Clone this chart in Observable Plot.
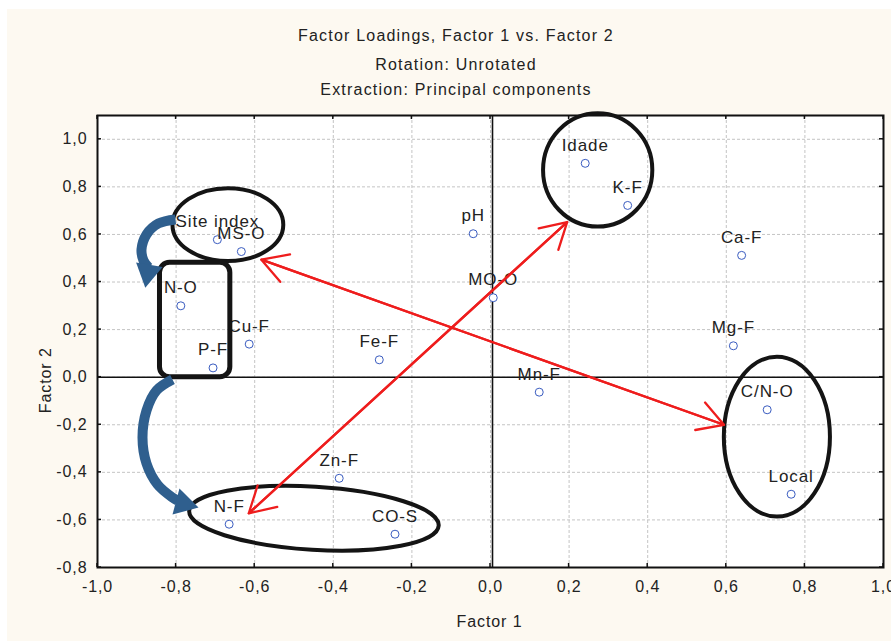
<!DOCTYPE html>
<html><head><meta charset="utf-8">
<script src="https://cdn.jsdelivr.net/npm/d3@7"></script>
<script src="https://cdn.jsdelivr.net/npm/@observablehq/plot@0.6"></script>
<style>
html,body{margin:0;padding:0;background:#fff;}
#page{position:relative;width:891px;height:641px;overflow:hidden;font-family:"Liberation Sans",Arial,sans-serif;color:#222;}
#bg{position:absolute;left:7px;top:9px;right:0;bottom:0;background:#fdf9f1;}
#titles{position:relative;height:100px;}
.t{position:absolute;left:0;width:912px;text-align:center;font-size:16px;line-height:20px;letter-spacing:1.2px;white-space:nowrap;color:#222;}
#chart{position:relative;height:541px;}
</style></head><body>
<div id="page"><div id="bg"></div>
<div id="titles">
<div class="t" style="top:25.7px">Factor Loadings, Factor 1 vs. Factor 2</div>
<div class="t" style="top:54.7px">Rotation: Unrotated</div>
<div class="t" style="top:79.7px">Extraction: Principal components</div>
</div>
<div id="chart"></div>
</div>
<script>
// ---- data: factor loadings ----
const names   = ["Idade","K-F","pH","Ca-F","MO-O","Mg-F","Site index","MS-O","N-O","Cu-F","P-F","Fe-F","Mn-F","C/N-O","Zn-F","Local","N-F","CO-S"];
const factor1 = [0.241, 0.349, -0.044, 0.639, 0.007, 0.618, -0.695, -0.634, -0.788, -0.614, -0.706, -0.283, 0.124, 0.704, -0.385, 0.765, -0.665, -0.243];
const factor2 = [0.899, 0.722, 0.603, 0.512, 0.334, 0.132, 0.578, 0.528, 0.300, 0.139, 0.039, 0.073, -0.063, -0.137, -0.425, -0.492, -0.618, -0.660];

// ---- axis ticks ----
const xTicks = [-1.0, -0.8, -0.6, -0.4, -0.2, 0.0, 0.2, 0.4, 0.6, 0.8, 1.0];
const yTicks = [-0.8, -0.6, -0.4, -0.2, 0.0, 0.2, 0.4, 0.6, 0.8, 1.0];
const xLabel = "Factor 1";
const yLabel = "Factor 2";

// ---- annotations (data units) ----
const ellipseCx   = [-0.667, 0.274, 0.730, -0.448];
const ellipseCy   = [0.639, 0.869, -0.252, -0.595];
const ellipseRx   = [0.141, 0.139, 0.135, 0.318];
const ellipseRy   = [0.153, 0.238, 0.336, 0.1325];
const ellipseTilt = [0, 0, 0, 3.4];
const boxX = [-0.841, -0.662];
const boxY = [0.481, 0.0];
const redArrowX1 = [-0.615, -0.583];
const redArrowY1 = [-0.572, 0.494];
const redArrowX2 = [0.195, 0.594];
const redArrowY2 = [0.652, -0.200];
const curveUpperX = [-0.8015, -0.8448, -0.8753, -0.8880, -0.8830, -0.8702];
const curveUpperY = [0.6632, 0.6463, 0.6001, 0.5370, 0.4907, 0.4613];
const curveLowerX = [-0.8092, -0.8499, -0.8753, -0.8855, -0.8753, -0.8473, -0.8092, -0.7964];
const curveLowerY = [-0.0097, -0.0559, -0.1400, -0.2536, -0.3629, -0.4512, -0.5059, -0.5185];
const headX = [-0.8715, -0.7812];
const headY = [0.4403, -0.5311];
const headAngle = [190, 105];

// ---- build tables ----
const points = names.map((n, i) => ({name: n, f1: factor1[i], f2: factor2[i]}));
const ellipses = ellipseCx.map((cx, i) => ({cx, cy: ellipseCy[i], rx: ellipseRx[i], ry: ellipseRy[i], tilt: ellipseTilt[i]}));
const redArrows = [];
redArrowX1.forEach((x1, i) => {
  redArrows.push({x1, y1: redArrowY1[i], x2: redArrowX2[i], y2: redArrowY2[i]});
  redArrows.push({x1: redArrowX2[i], y1: redArrowY2[i], x2: x1, y2: redArrowY1[i]});
});
const curves = [
  ...curveUpperX.map((x, i) => ({k: "u", x, y: curveUpperY[i]})),
  ...curveLowerX.map((x, i) => ({k: "l", x, y: curveLowerY[i]}))
];
const heads = headX.map((x, i) => ({x, y: headY[i], a: headAngle[i]}));
const fmt = v => v.toFixed(1).replace(".", ",");

const NS = "http://www.w3.org/2000/svg";
function el(tag, attrs) {
  const e = document.createElementNS(NS, tag);
  for (const k in attrs) e.setAttribute(k, attrs[k]);
  return e;
}
// inward ticks on all four sides
function innerTicks(index, scales, values, dims) {
  const {x, y} = scales;
  const L = dims.marginLeft, R = dims.width - dims.marginRight;
  const T = dims.marginTop, B = dims.height - dims.marginBottom;
  const g = el("g", {stroke: "#111", "stroke-width": 1.5});
  for (const v of xTicks) {
    const px = x(v);
    g.appendChild(el("line", {x1: px, x2: px, y1: B, y2: B - 4}));
    g.appendChild(el("line", {x1: px, x2: px, y1: T, y2: T + 4}));
  }
  for (const v of yTicks) {
    const py = y(v);
    g.appendChild(el("line", {x1: L, x2: L + 4, y1: py, y2: py}));
    g.appendChild(el("line", {x1: R, x2: R - 4, y1: py, y2: py}));
  }
  return g;
}
// black annotation ellipses and rounded box
function shapes(index, scales) {
  const {x, y} = scales;
  const g = el("g", {fill: "none", stroke: "#141414"});
  for (const e of ellipses) {
    const cx = x(e.cx), cy = y(e.cy);
    const rx = x(e.cx + e.rx) - cx, ry = cy - y(e.cy + e.ry);
    g.appendChild(el("ellipse", {cx, cy, rx, ry, "stroke-width": 4, transform: `rotate(${e.tilt} ${cx} ${cy})`}));
  }
  const bx = x(boxX[0]), by = y(boxY[0]);
  g.appendChild(el("rect", {x: bx, y: by, width: x(boxX[1]) - bx, height: y(boxY[1]) - by, rx: 10, ry: 10, "stroke-width": 5}));
  return g;
}

const blue = "#2f5f8e";
const plot = Plot.plot({
  width: 891,
  height: 541,
  marginTop: 15,
  marginLeft: 97,
  marginRight: 8,
  marginBottom: 74,
  x: {domain: [-1, 1]},
  y: {domain: [-0.8, 1.1]},
  style: {background: "transparent", fontFamily: "'Liberation Sans', Arial, sans-serif", fontSize: "16px", color: "#222", overflow: "visible"},
  marks: [
    Plot.frame({fill: "white", stroke: "none"}),
    Plot.ruleX(xTicks, {stroke: "#c4c4c4", strokeDasharray: "3,2", strokeWidth: 1}),
    Plot.ruleY(yTicks, {stroke: "#c4c4c4", strokeDasharray: "3,2", strokeWidth: 1}),
    Plot.ruleX([0], {stroke: "#111", strokeWidth: 1.6, dx: 2}),
    Plot.ruleY([0], {stroke: "#111", strokeWidth: 1.6}),
    Plot.axisX({ticks: xTicks, tickFormat: fmt, tickSize: 0, tickPadding: 13, label: null, fontSize: 16}),
    Plot.axisY({ticks: yTicks, tickFormat: fmt, tickSize: 0, tickPadding: 10, label: null, fontSize: 16}),
    Plot.frame({stroke: "#111", strokeWidth: 2}),
    innerTicks,
    Plot.dot(points, {x: "f1", y: "f2", r: 4, stroke: "#3a5cc0", strokeWidth: 1, fill: "white"}),
    Plot.text(points, {x: "f1", y: "f2", text: "name", dy: -18, fontSize: 17, fill: "#222"}),
    Plot.text([xLabel], {frameAnchor: "bottom", text: d => d, dy: 59.6, dx: -1, fontSize: 16, fill: "#222"}),
    Plot.text([yLabel], {frameAnchor: "left", text: d => d, rotate: -90, dx: -52.1, dy: 71.7, fontSize: 16, fill: "#222"}),
    shapes,
    Plot.arrow(redArrows, {x1: "x1", y1: "y1", x2: "x2", y2: "y2", stroke: "#ee1d1d", strokeWidth: 2.3, headLength: 19, headAngle: 60}),
    Plot.line(curves, {x: "x", y: "y", z: "k", curve: "catmull-rom", stroke: blue, strokeWidth: 10, strokeLinecap: "butt"}),
    Plot.dot(heads, {x: "x", y: "y", symbol: "triangle", r: 10, fill: blue, stroke: "none", rotate: "a"})
  ]
});
d3.select(plot).selectAll("text").style("letter-spacing", "0.9px");
document.getElementById("chart").appendChild(plot);
</script>
</body></html>
